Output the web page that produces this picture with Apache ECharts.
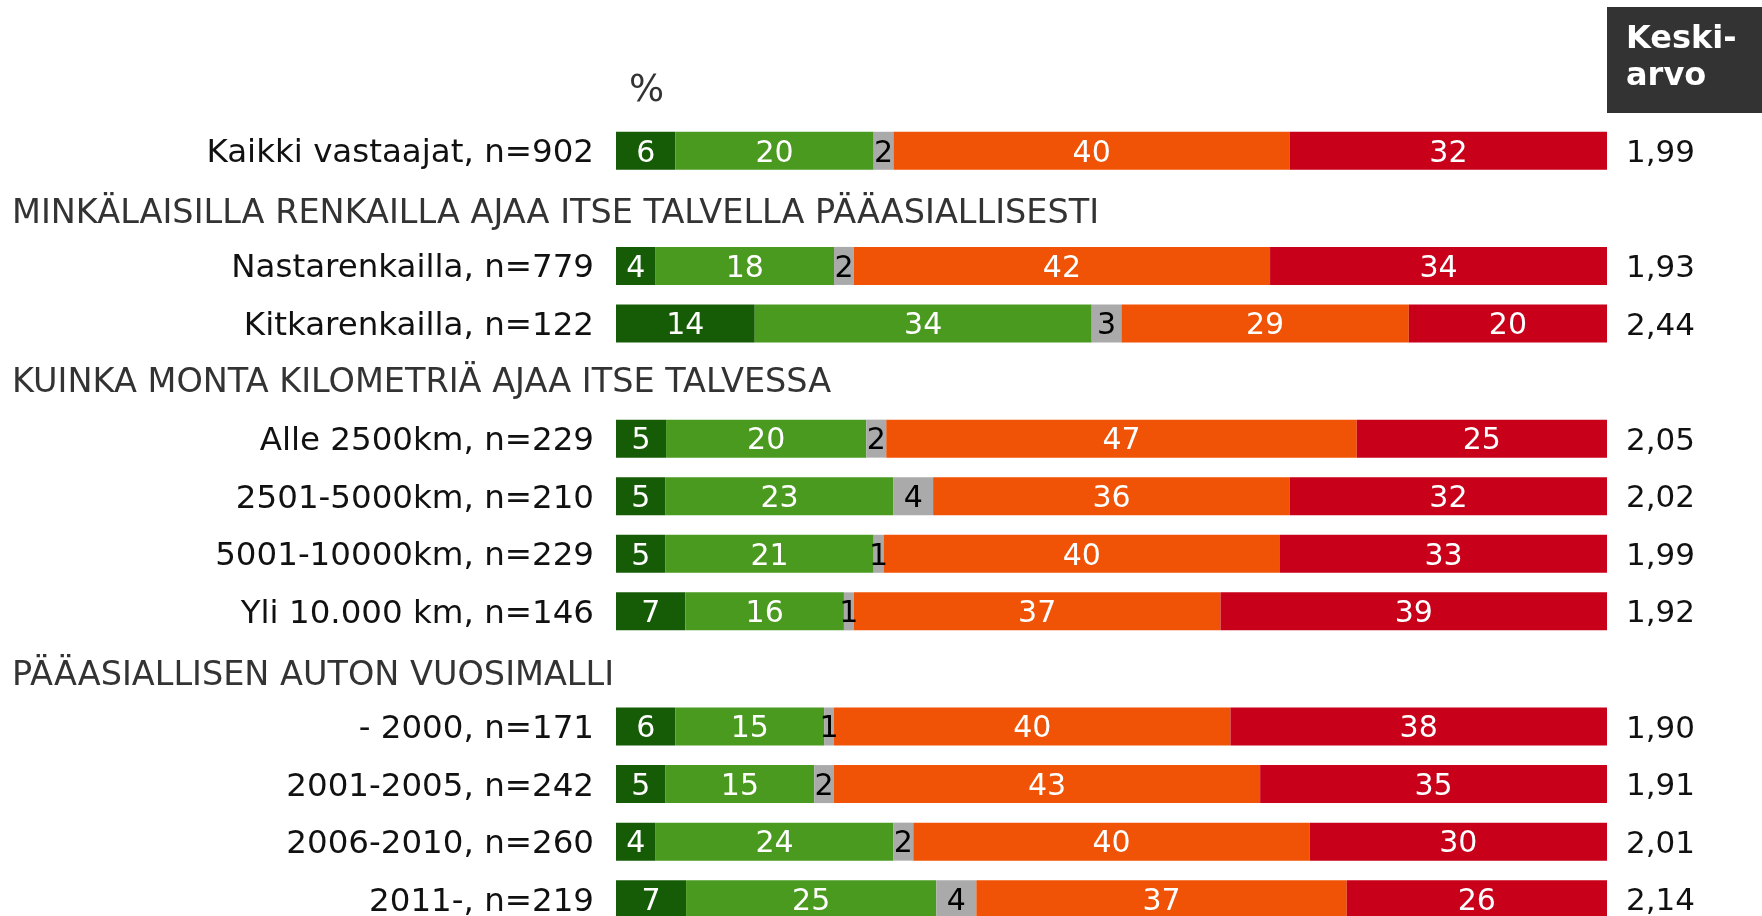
<!DOCTYPE html>
<html>
<head>
<meta charset="utf-8">
<script src="https://cdn.jsdelivr.net/npm/echarts@6/dist/echarts.min.js"></script>
<style>
html,body{margin:0;padding:0;background:#fff;}
#chart{width:1762px;height:916px;}
</style>
</head>
<body>
<div id="chart"></div>
<script>
const categories = [
  'Kaikki vastaajat, n=902',
  'MINKÄLAISILLA RENKAILLA AJAA ITSE TALVELLA PÄÄASIALLISESTI',
  'Nastarenkailla, n=779',
  'Kitkarenkailla, n=122',
  'KUINKA MONTA KILOMETRIÄ AJAA ITSE TALVESSA',
  'Alle 2500km, n=229',
  '2501-5000km, n=210',
  '5001-10000km, n=229',
  'Yli 10.000 km, n=146',
  'PÄÄASIALLISEN AUTON VUOSIMALLI',
  '- 2000, n=171',
  '2001-2005, n=242',
  '2006-2010, n=260',
  '2011-, n=219'
];
const headings = [
  'MINKÄLAISILLA RENKAILLA AJAA ITSE TALVELLA PÄÄASIALLISESTI',
  'KUINKA MONTA KILOMETRIÄ AJAA ITSE TALVESSA',
  'PÄÄASIALLISEN AUTON VUOSIMALLI'
];
const seg1 = [6, null, 4, 14, null, 5, 5, 5, 7, null, 6, 5, 4, 7];
const seg2 = [20, null, 18, 34, null, 20, 23, 21, 16, null, 15, 15, 24, 25];
const seg3 = [2, null, 2, 3, null, 2, 4, 1, 1, null, 1, 2, 2, 4];
const seg4 = [40, null, 42, 29, null, 47, 36, 40, 37, null, 40, 43, 40, 37];
const seg5 = [32, null, 34, 20, null, 25, 32, 33, 39, null, 38, 35, 30, 26];
const means = ['1,99', '', '1,93', '2,44', '', '2,05', '2,02', '1,99', '1,92', '', '1,90', '1,91', '2,01', '2,14'];
const segColors = ['#165c06', '#4a9a20', '#aaaaaa', '#f05206', '#c8001a'];
const segLabelColors = ['#ffffff', '#ffffff', '#000000', '#ffffff', '#ffffff'];

const segs = [seg1, seg2, seg3, seg4, seg5];
const rowSums = categories.map((c, i) => segs.reduce((s, a) => s + (a[i] || 0), 0));

const FONT = "'DejaVu Sans', 'Liberation Sans', sans-serif";

const series = segs.map((arr, k) => ({
  type: 'bar',
  stack: 'all',
  barWidth: 38,
  itemStyle: { color: segColors[k] },
  label: {
    show: true,
    position: 'inside',
    offset: [0, 3],
    color: segLabelColors[k],
    fontFamily: FONT,
    fontSize: 30,
    formatter: p => (arr[p.dataIndex] == null ? '' : String(arr[p.dataIndex]))
  },
  data: arr.map((v, i) => (v == null ? null : v / rowSums[i] * 100))
}));

const headStyle = pad => ({ width: 582, align: 'left', fontFamily: FONT, fontSize: 33.5, color: '#333333', padding: [pad, 0, 0, 0] });

const chart = echarts.init(document.getElementById('chart'), null, { renderer: 'canvas' });
chart.setOption({
  animation: false,
  backgroundColor: '#ffffff',
  title: {
    text: '%',
    left: 624,
    top: 68,
    textStyle: { fontFamily: FONT, fontSize: 37, fontWeight: 'normal', color: '#333333' }
  },
  graphic: [
    { type: 'rect', shape: { x: 1607, y: 7, width: 155, height: 106 }, style: { fill: '#333333' } },
    {
      type: 'text', x: 1626, y: 21,
      style: { text: 'Keski-\narvo', fill: '#ffffff', font: "bold 32px 'DejaVu Sans', sans-serif", lineHeight: 37 }
    }
  ],
  grid: { left: 616, right: 155, top: 122, bottom: -12, outerBoundsMode: 'none', containLabel: false },
  xAxis: { type: 'value', min: 0, max: 100, show: false },
  yAxis: [
    {
      type: 'category',
      inverse: true,
      data: categories,
      axisLine: { show: false },
      axisTick: { show: false },
      axisLabel: {
        margin: 22,
        formatter: v => {
          const h = headings.indexOf(v);
          return h >= 0 ? '{h' + h + '|' + v + '}' : '{n|' + v + '}';
        },
        rich: {
          n: { fontFamily: FONT, fontSize: 32.5, color: '#111111', padding: [6, 0, 0, 0] },
          h0: headStyle(12),
          h1: headStyle(5),
          h2: headStyle(14)
        }
      }
    },
    {
      type: 'category',
      inverse: true,
      position: 'right',
      data: means,
      axisLine: { show: false },
      axisTick: { show: false },
      axisLabel: {
        margin: 19,
        formatter: v => '{m|' + v + '}',
        rich: { m: { fontFamily: FONT, fontSize: 31, color: '#111111', padding: [6, 0, 0, 0] } }
      }
    }
  ],
  series: series
});
</script>
</body>
</html>
